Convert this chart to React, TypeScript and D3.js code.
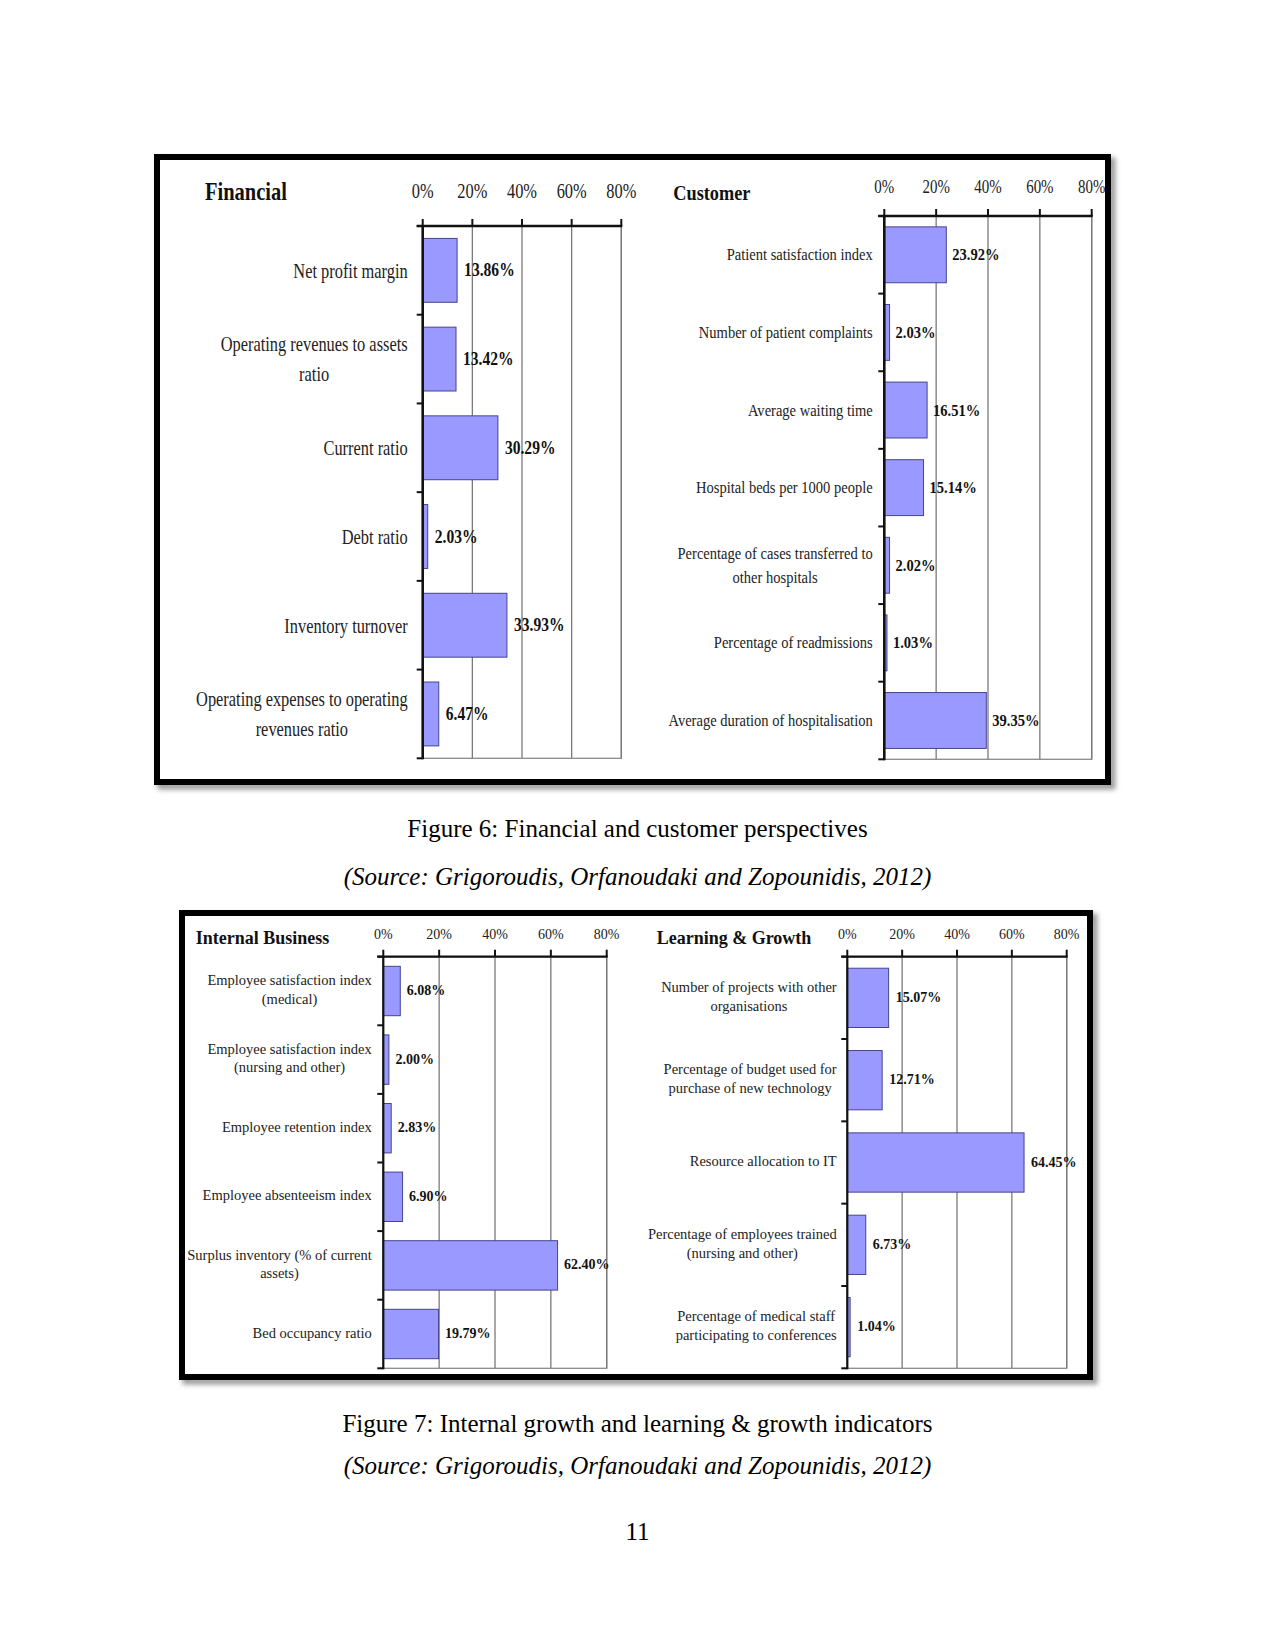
import React from "react";
import * as d3 from "d3";

// ---------- data ----------
const tickValues = [0, 20, 40, 60, 80];

const financialTitle = "Financial";
const financialCategories = [
  ["Net profit margin"],
  ["Operating revenues to assets", "ratio"],
  ["Current ratio"],
  ["Debt ratio"],
  ["Inventory turnover"],
  ["Operating expenses to operating", "revenues ratio"],
];
const financialValues = [13.86, 13.42, 30.29, 2.03, 33.93, 6.47];

const customerTitle = "Customer";
const customerCategories = [
  ["Patient satisfaction index"],
  ["Number of patient complaints"],
  ["Average waiting time"],
  ["Hospital beds per 1000 people"],
  ["Percentage of cases transferred to", "other hospitals"],
  ["Percentage of readmissions"],
  ["Average duration of hospitalisation"],
];
const customerValues = [23.92, 2.03, 16.51, 15.14, 2.02, 1.03, 39.35];

const internalTitle = "Internal Business";
const internalCategories = [
  ["Employee satisfaction index", "(medical)"],
  ["Employee satisfaction index", "(nursing and other)"],
  ["Employee retention index"],
  ["Employee absenteeism index"],
  ["Surplus inventory (% of current", "assets)"],
  ["Bed occupancy ratio"],
];
const internalValues = [6.08, 2.0, 2.83, 6.9, 62.4, 19.79];

const learningTitle = "Learning & Growth";
const learningCategories = [
  ["Number of projects with other", "organisations"],
  ["Percentage of budget used for", "purchase of new technology"],
  ["Resource allocation to IT"],
  ["Percentage of employees trained", "(nursing and other)"],
  ["Percentage of medical staff", "participating to conferences"],
];
const learningValues = [15.07, 12.71, 64.45, 6.73, 1.04];

const captionFig6 = "Figure 6: Financial and customer perspectives";
const captionFig7 = "Figure 7: Internal growth and learning & growth indicators";
const captionSource = "(Source: Grigoroudis, Orfanoudaki and Zopounidis, 2012)";
const pageNumber = "11";

// ---------- layout ----------
const FONT = '"Liberation Serif", "Times New Roman", Times, serif';

let measureCtx: CanvasRenderingContext2D | null = null;
function measure(text: string, size: number, weight: string) {
  if (!measureCtx) {
    const c = document.createElement("canvas");
    measureCtx = c.getContext("2d");
  }
  if (!measureCtx) return text.length * size * 0.45;
  measureCtx.font = `${weight} ${size}px "Liberation Serif"`;
  return measureCtx.measureText(text).width;
}

type Layout = {
  x0: number; x80: number; yTop: number; yBottom: number;
  titleX: number; titleY: number; titleSize: number;
  tickY: number; tickSize: number;
  labelSize: number; labelRight: number; lineHeight: number; labelDy: number;
  valueSize: number; valueDy: number; valueGap: number;
  sx: number; axisW: number;
};

const financialLayout: Layout = {
  x0: 422.7, x80: 621.3, yTop: 226, yBottom: 758.3,
  titleX: 205, titleY: 200, titleSize: 25,
  tickY: 198.3, tickSize: 20,
  labelSize: 20, labelRight: 407.7, lineHeight: 30, labelDy: 7.4,
  valueSize: 19, valueDy: 6, valueGap: 7,
  sx: 0.82, axisW: 2.6,
};
const customerLayout: Layout = {
  x0: 884.3, x80: 1091.7, yTop: 216, yBottom: 759.3,
  titleX: 673.3, titleY: 200, titleSize: 22,
  tickY: 193.3, tickSize: 18,
  labelSize: 17.5, labelRight: 872.7, lineHeight: 24.4, labelDy: 5.5,
  valueSize: 17.5, valueDy: 5.5, valueGap: 6,
  sx: 0.83, axisW: 2.6,
};
const internalLayout: Layout = {
  x0: 383.3, x80: 606.7, yTop: 956.7, yBottom: 1368.3,
  titleX: 195.7, titleY: 944.3, titleSize: 18,
  tickY: 939, tickSize: 14,
  labelSize: 14.5, labelRight: 371.7, lineHeight: 18.5, labelDy: 3.5,
  valueSize: 14, valueDy: 4, valueGap: 6.5,
  sx: 1, axisW: 2.2,
};
const learningLayout: Layout = {
  x0: 847.3, x80: 1066.7, yTop: 956.7, yBottom: 1368.3,
  titleX: 656.7, titleY: 944.3, titleSize: 18,
  tickY: 939, tickSize: 14,
  labelSize: 14.5, labelRight: 836.7, lineHeight: 19, labelDy: 3.5,
  valueSize: 14, valueDy: 4, valueGap: 7,
  sx: 1, axisW: 2.2,
};

function SText({ x, y, sx, size, weight = "normal", anchor = "start", fill = "#1a1a1a", children }: any) {
  return (
    <text
      transform={`translate(${x},${y}) scale(${sx},1)`}
      fontFamily={FONT}
      fontSize={size}
      fontWeight={weight}
      textAnchor={anchor}
      fill={fill}
    >
      {children}
    </text>
  );
}

function Panel({ title, categories, values, L }: { title: string; categories: string[][]; values: number[]; L: Layout }) {
  const x = d3.scaleLinear().domain([0, 80]).range([L.x0, L.x80]);
  const y = d3
    .scaleBand<number>()
    .domain(d3.range(values.length))
    .range([L.yTop, L.yBottom])
    .paddingInner(0.28)
    .paddingOuter(0.14);
  const step = y.step();
  const boundaries = d3.range(values.length + 1).map((i) => L.yTop + i * step);

  return (
    <g>
      {/* title */}
      <SText x={L.titleX} y={L.titleY} sx={L.sx} size={L.titleSize} weight="bold" fill="#111">
        {title}
      </SText>
      {/* tick labels */}
      {tickValues.map((t) => (
        <SText key={"tl" + t} x={x(t)} y={L.tickY} sx={L.sx} size={L.tickSize} anchor="middle" fill="#222">
          {`${t}%`}
        </SText>
      ))}
      {/* plot area border + gridlines */}
      <rect
        x={x(0)}
        y={L.yTop}
        width={x(80) - x(0)}
        height={L.yBottom - L.yTop}
        fill="none"
        stroke="#8a8a8a"
        strokeWidth={1.3}
      />
      {tickValues.slice(1).map((t) => (
        <line key={"g" + t} x1={x(t)} x2={x(t)} y1={L.yTop} y2={L.yBottom} stroke="#7a7a7a" strokeWidth={1.3} />
      ))}
      {/* bars */}
      {values.map((v, i) => (
        <rect
          key={"b" + i}
          x={x(0)}
          y={y(i)!}
          width={x(v) - x(0)}
          height={y.bandwidth()}
          fill="#9999FF"
          stroke="#45458f"
          strokeWidth={1}
        />
      ))}
      {/* top axis */}
      <line x1={x(0) - 6} x2={x(80) + 1} y1={L.yTop} y2={L.yTop} stroke="#111" strokeWidth={L.axisW} />
      {tickValues.map((t) => (
        <line key={"tk" + t} x1={x(t)} x2={x(t)} y1={L.yTop - 7} y2={L.yTop} stroke="#111" strokeWidth={2} />
      ))}
      {/* left axis */}
      <line x1={x(0)} x2={x(0)} y1={L.yTop} y2={L.yBottom + 1} stroke="#111" strokeWidth={L.axisW} />
      {boundaries.map((b, i) => (
        <line key={"lt" + i} x1={x(0) - 6} x2={x(0)} y1={b} y2={b} stroke="#111" strokeWidth={2} />
      ))}
      {/* category labels */}
      {categories.map((lines, i) => {
        const cy = y(i)! + y.bandwidth() / 2;
        const widths = lines.map((l) => measure(l, L.labelSize, "normal") * L.sx);
        const maxW = Math.max(...widths);
        const cx = L.labelRight - maxW / 2;
        const n = lines.length;
        return (
          <g key={"cl" + i}>
            {lines.map((l, j) => (
              <SText
                key={j}
                x={cx}
                y={cy + L.labelDy + (j - (n - 1) / 2) * L.lineHeight}
                sx={L.sx}
                size={L.labelSize}
                anchor="middle"
                fill="#222"
              >
                {l}
              </SText>
            ))}
          </g>
        );
      })}
      {/* value labels */}
      {values.map((v, i) => (
        <SText
          key={"v" + i}
          x={x(v) + L.valueGap}
          y={y(i)! + y.bandwidth() / 2 + L.valueDy}
          sx={L.sx}
          size={L.valueSize}
          weight="bold"
          fill="#111"
        >
          {`${v.toFixed(2)}%`}
        </SText>
      ))}
    </g>
  );
}

function Frame({ x, y, w, h, children }: any) {
  return (
    <g>
      <rect x={x + 4} y={y + 4} width={w} height={h} fill="none" stroke="#9a9a9a" strokeWidth={7} filter="url(#blur)" />
      <rect x={x} y={y} width={w} height={h} fill="#fff" />
      {children}
      <rect x={x} y={y} width={w} height={h} fill="none" stroke="#000" strokeWidth={6} />
    </g>
  );
}

export default function App() {
  const W = 1275;
  const H = 1651;
  return (
    <div style={{ position: "absolute", left: 0, top: 0, width: W, height: H, background: "#fff" }}>
      <svg width={W} height={H} viewBox={`0 0 ${W} ${H}`} style={{ display: "block" }}>
        <defs>
          <filter id="blur" x="-5%" y="-5%" width="110%" height="110%">
            <feGaussianBlur stdDeviation={2.5} />
          </filter>
        </defs>
        <rect x={0} y={0} width={W} height={H} fill="#fff" />

        <Frame x={157} y={157} w={951} h={625}>
          <Panel title={financialTitle} categories={financialCategories} values={financialValues} L={financialLayout} />
          <Panel title={customerTitle} categories={customerCategories} values={customerValues} L={customerLayout} />
        </Frame>

        <text x={637.5} y={837} textAnchor="middle" fontFamily={FONT} fontSize={25} fill="#000">
          {captionFig6}
        </text>
        <text x={637.5} y={885} textAnchor="middle" fontFamily={FONT} fontSize={25} fontStyle="italic" fill="#000">
          {captionSource}
        </text>

        <Frame x={182} y={913} w={908} h={464}>
          <Panel title={internalTitle} categories={internalCategories} values={internalValues} L={internalLayout} />
          <Panel title={learningTitle} categories={learningCategories} values={learningValues} L={learningLayout} />
        </Frame>

        <text x={637.5} y={1432} textAnchor="middle" fontFamily={FONT} fontSize={25} fill="#000">
          {captionFig7}
        </text>
        <text x={637.5} y={1474} textAnchor="middle" fontFamily={FONT} fontSize={25} fontStyle="italic" fill="#000">
          {captionSource}
        </text>
        <text x={637.5} y={1540} textAnchor="middle" fontFamily={FONT} fontSize={25} fill="#000">
          {pageNumber}
        </text>
      </svg>
    </div>
  );
}
